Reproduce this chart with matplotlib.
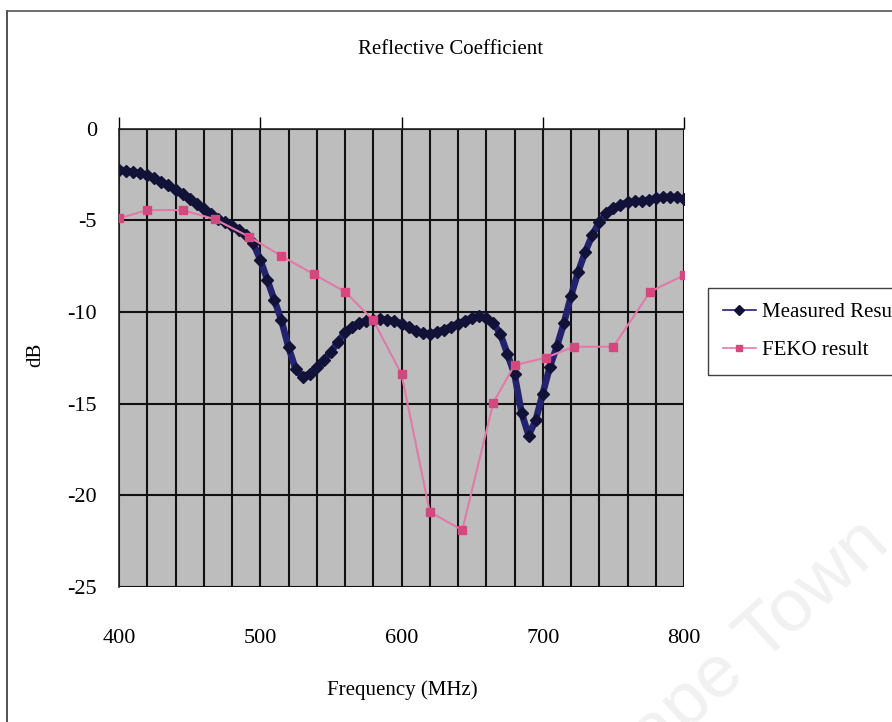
import matplotlib
matplotlib.use('Agg')
import matplotlib.pyplot as plt
from matplotlib.lines import Line2D
import numpy as np

# 测量数据 (MHz, dB)
meas_freq = np.arange(400, 801, 5)
meas_db = [
    -2.24, -2.30, -2.37, -2.45, -2.56, -2.70, -2.89, -3.10, -3.33, -3.58,
    -3.84, -4.10, -4.39, -4.67, -4.94, -5.12, -5.31, -5.55, -5.83, -6.25,
    -7.15, -8.25, -9.36, -10.46, -11.93, -13.10, -13.55, -13.36, -13.00, -12.60,
    -12.18, -11.65, -11.09, -10.80, -10.60, -10.48, -10.42, -10.40, -10.42, -10.50,
    -10.64, -10.85, -11.04, -11.15, -11.18, -11.10, -10.96, -10.80, -10.64, -10.48,
    -10.31, -10.24, -10.31, -10.60, -11.20, -12.30, -13.40, -15.50, -16.74, -15.90,
    -14.45, -13.00, -11.88, -10.60, -9.13, -7.84, -6.74, -5.83, -5.09, -4.63,
    -4.36, -4.15, -4.03, -3.98, -3.95, -3.88, -3.81, -3.76, -3.72, -3.75,
    -3.84,
]

# FEKO 仿真结果
feko_freq = [400, 420, 445, 468, 492, 515, 538, 560, 580, 600,
             620, 643, 665, 680, 702, 722, 750, 776, 800]
feko_db = [-4.9, -4.45, -4.45, -4.95, -5.9, -6.95, -7.95, -8.9, -10.45, -13.4,
           -20.9, -21.9, -14.95, -12.9, -12.5, -11.9, -11.9, -8.9, -8.0]

x_ticks = [400, 500, 600, 700, 800]
y_ticks = [0, -5, -10, -15, -20, -25]

plt.rcParams['font.family'] = ['Liberation Serif', 'DejaVu Serif']

W, H = 892, 722
fig = plt.figure(figsize=(W / 100, H / 100), dpi=100)

# 水印 (背景)
fig.text(0.985, 0.262, 'University of Cape Town', rotation=42, rotation_mode='anchor',
         ha='right', va='center', fontsize=54, color='#f1f1f1',
         family='Liberation Sans', zorder=0)

# 图表外框
fig.add_artist(Line2D([7 / W, 7 / W], [0, 1 - 11 / H], color='#333333', lw=1.2,
                      transform=fig.transFigure))
fig.add_artist(Line2D([7 / W, 1], [1 - 11 / H, 1 - 11 / H], color='#555555', lw=1.2,
                      transform=fig.transFigure))

ax = fig.add_axes([119 / W, 1 - 587 / H, (684 - 119) / W, (587 - 128.5) / H])
ax.set_facecolor('#bdbdbd')

ax.plot(meas_freq, meas_db, color='#22226e', lw=4.8, marker='D', markersize=6,
        markerfacecolor='#121238', markeredgecolor='#121238', label='Measured Result',
        zorder=3)
ax.plot(feko_freq, feko_db, color='#e27aa8', lw=1.5, marker='s', markersize=6,
        markerfacecolor='#d4487f', markeredgecolor='#d4487f', label='FEKO result',
        zorder=4)

ax.set_xlim(400, 800)
ax.set_ylim(-25, 0)
ax.set_xticks(x_ticks)
ax.set_yticks(y_ticks)
ax.set_xticks(np.arange(400, 801, 20), minor=True)

ax.grid(True, which='major', axis='y', color='#111111', lw=1.5)
ax.grid(True, which='both', axis='x', color='#111111', lw=1.5)
ax.set_axisbelow(True)

for side in ['right', 'bottom']:
    ax.spines[side].set_visible(False)
ax.spines['top'].set_color('#222222')
ax.spines['left'].set_color('#222222')
ax.spines['top'].set_linewidth(1.2)
ax.spines['left'].set_linewidth(1.2)

ax.tick_params(axis='x', which='major', top=True, bottom=False, labeltop=False,
               labelbottom=True, direction='out', length=9, width=1, pad=21,
               labelsize=16)
ax.tick_params(axis='x', which='minor', top=False, bottom=False)
ax.tick_params(axis='y', which='major', length=0, pad=16, labelsize=16)
ax.set_yticklabels([str(v) for v in y_ticks])

fig.text(451 / W, 1 - 50 / H, 'Reflective Coefficient', ha='center', va='center',
         fontsize=15)
fig.text(402 / W, 1 - 690 / H, 'Frequency (MHz)', ha='center', va='center',
         fontsize=15)
fig.text(36 / W, 1 - 355 / H, 'dB', ha='center', va='center', rotation=90,
         fontsize=15)

leg = fig.legend(loc='upper left', bbox_to_anchor=(708 / W, 1 - 288 / H),
                 fontsize=15, frameon=True, fancybox=False, borderpad=0.7,
                 handlelength=1.6, handletextpad=0.3, labelspacing=0.9,
                 borderaxespad=0)
leg.get_frame().set_edgecolor('#111111')
leg.get_frame().set_linewidth(1.0)
for h in leg.legend_handles:
    h.set_linewidth(1.2)
    h.set_markersize(5)

fig.savefig('out.png', dpi=100)
